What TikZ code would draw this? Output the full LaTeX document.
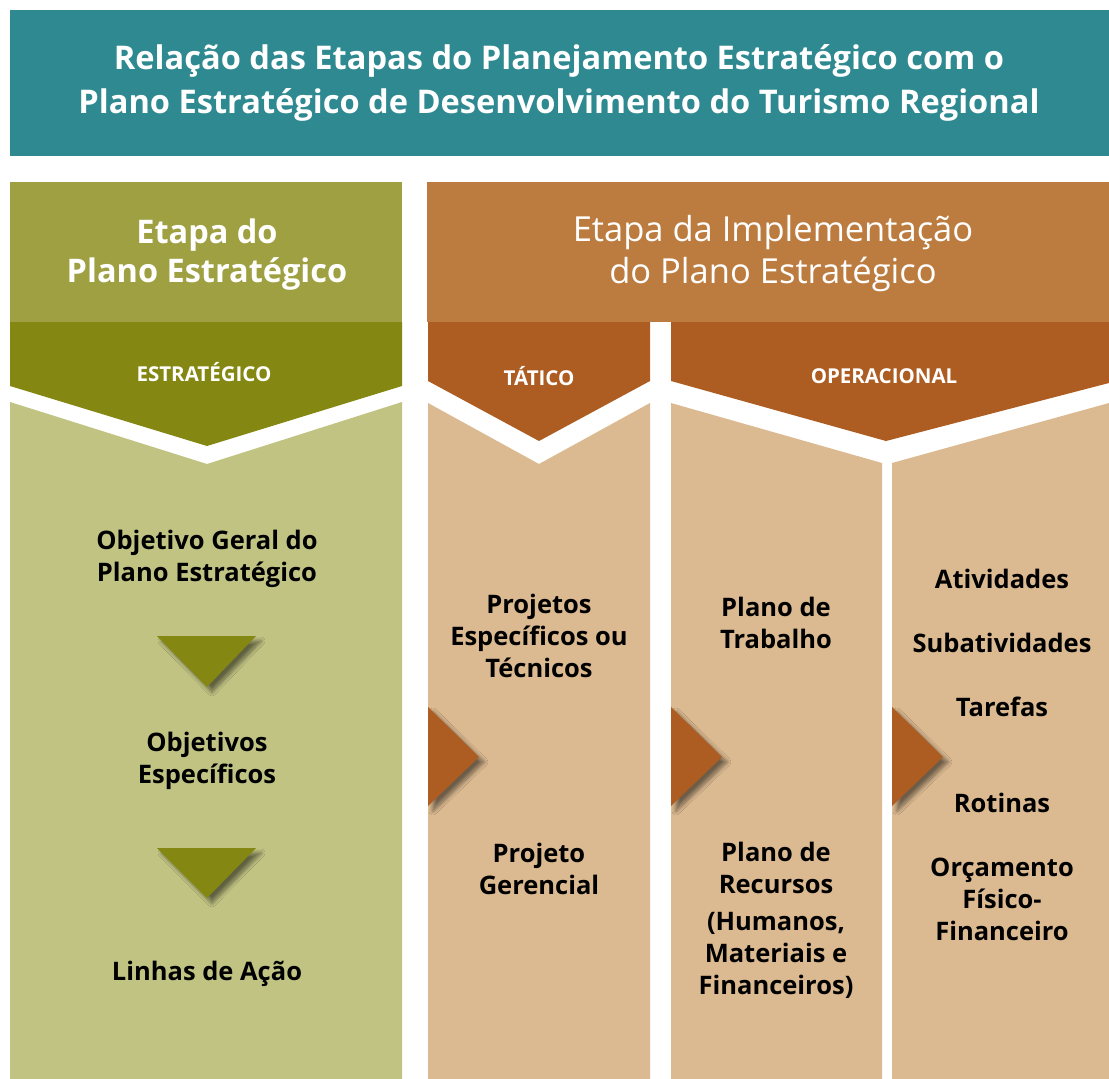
\documentclass[tikz,border=0pt]{standalone}
\usepackage{fontspec}
\setmainfont{Open Sans}
\usetikzlibrary{shadows.blur}

\definecolor{tealtop}{HTML}{2E8990}
\definecolor{greenhead}{HTML}{9EA041}
\definecolor{greenband}{HTML}{848812}
\definecolor{greenbody}{HTML}{C1C383}
\definecolor{brownhead}{HTML}{BC7C40}
\definecolor{brownband}{HTML}{AD5D21}
\definecolor{brownbody}{HTML}{DCBA91}

\begin{document}
\begin{tikzpicture}[x=1pt,y=-1pt,
        title/.style={align=center,text=white,font=\fontsize{32.6}{44}\selectfont\bfseries},
        stage/.style={align=center,text=white,font=\fontsize{32.5}{39}\selectfont\bfseries},
        stagelight/.style={align=center,text=white,font=\fontsize{34.5}{42}\selectfont},
        level/.style={text=white,font=\fontsize{20.5}{24}\selectfont\bfseries},
        item/.style={align=center,text=black,font=\fontsize{25.5}{32}\selectfont\bfseries},
        pointer/.style={blur shadow={shadow xshift=5pt,shadow yshift=-5pt,shadow blur radius=4pt,shadow blur steps=10,shadow opacity=50}}]
  \useasboundingbox (0,0) rectangle (1109,1079);
  % title
  \fill[tealtop] (10,10) rectangle (1109,156);
  \node[title] (heading) at (559,83) {Relação das Etapas do Planejamento Estratégico com o\\
    Plano Estratégico de Desenvolvimento do Turismo Regional};

  % strategic column
  \fill[greenhead] (10,182) rectangle (402,322);
  \fill[greenband] (10,322) -- (402,322) -- (402,386) -- (207,446) -- (10,386) -- cycle;
  \fill[greenbody] (10,402) -- (207,464) -- (402,402) -- (402,1079) -- (10,1079) -- cycle;
  \node[stage] (plano) at (207,255) {Etapa do\\Plano Estratégico};
  \node[level] (estr) at (204,372) {ESTRATÉGICO};

  % implementation columns
  \fill[brownhead] (427,182) rectangle (1109,322);
  \fill[brownband] (428,322) -- (650,322) -- (650,381) -- (539,441) -- (428,381) -- cycle;
  \fill[brownband] (671,322) -- (1109,322) -- (1109,383) -- (886,441) -- (671,381) -- cycle;
  \fill[brownbody] (428,403) -- (539,464) -- (650,403) -- (650,1079) -- (428,1079) -- cycle;
  \fill[brownbody] (671,403) -- (882,463) -- (882,1079) -- (671,1079) -- cycle;
  \fill[brownbody] (892,463) -- (1109,403) -- (1109,1079) -- (892,1079) -- cycle;
  \node[stagelight] (impl) at (773,254) {Etapa da Implementação\\do Plano Estratégico};
  \node[level] (tat) at (539,376) {TÁTICO};
  \node[level] (oper) at (884,376) {OPERACIONAL};

  % pointers
  \fill[greenband,pointer] (157,636) -- (256,636) -- (207,687) -- cycle;
  \fill[greenband,pointer] (157,848) -- (256,848) -- (207,898) -- cycle;
  \foreach \x in {428,671,892}
    \fill[brownband,pointer] (\x,707) -- (\x+51,757) -- (\x,806) -- cycle;

  % contents
  \node[item] (geral) at (207,559) {Objetivo Geral do\\Plano Estratégico};
  \node[item] (espec) at (207,761) {Objetivos\\Específicos};
  \node[item] (linhas) at (207,974) {Linhas de Ação};

  \node[item] (proj) at (539,636) {Projetos\\Específicos ou\\Técnicos};
  \node[item] (gerenc) at (539,869) {Projeto\\Gerencial};

  \node[item] (trab) at (776,623) {Plano de\\Trabalho};
  \node[item] (recur) at (776,868) {Plano de\\Recursos};
  \node[item] (humanos) at (776,955) {(Humanos,\\Materiais e\\Financeiros)};

  \node[item] (ativ) at (1002,579) {Atividades};
  \node[item] (subativ) at (1002,643) {Subatividades};
  \node[item] (taref) at (1002,707) {Tarefas};
  \node[item] (rotin) at (1002,803) {Rotinas};
  \node[item] (orcam) at (1002,899) {Orçamento\\Físico-\\Financeiro};
\end{tikzpicture}
\end{document}
